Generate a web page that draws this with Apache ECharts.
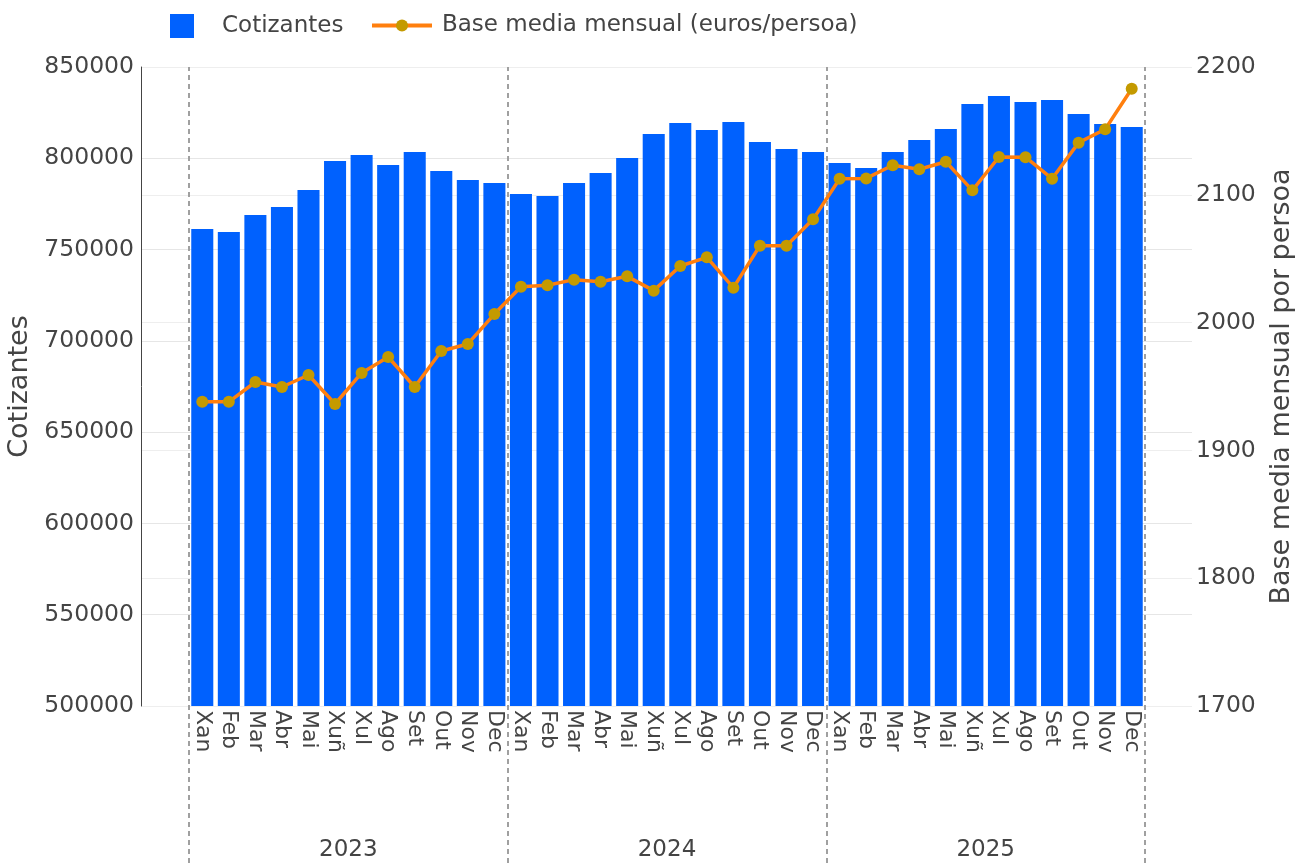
<!DOCTYPE html>
<html>
<head>
<meta charset="utf-8">
<script src="https://cdn.jsdelivr.net/npm/echarts/dist/echarts.min.js"></script>
<style>
  html, body { margin: 0; padding: 0; background: #fff; }
  #chart { width: 1295px; height: 863px; }
</style>
</head>
<body>
<div id="chart"></div>
<script>
const years = ['2023', '2024', '2025'];
const months = ['Xan', 'Feb', 'Mar', 'Abr', 'Mai', 'Xuñ', 'Xul', 'Ago', 'Set', 'Out', 'Nov', 'Dec'];
const cotizantes = [
  761250, 759600, 768900, 773300, 782600, 798500, 801800, 796300, 803400, 793000, 788100, 786400,
  780400, 779300, 786400, 791900, 800100, 813300, 819300, 815500, 819900, 808900, 805100, 803400,
  797400, 794700, 803400, 810000, 816000, 829700, 834100, 830800, 831900, 824200, 818800, 817100
];
const baseMedia = [
  1938, 1938, 1953.5, 1949.6, 1959, 1936.3, 1960.6, 1973.1, 1949.6, 1977.8, 1983.3, 2006.7,
  2028.1, 2029.2, 2033.6, 2032, 2036.2, 2025, 2044.3, 2051.1, 2027.3, 2060.2, 2060.2, 2080.8,
  2112.6, 2112.8, 2123.1, 2120, 2125.9, 2103.5, 2129.6, 2129.4, 2112.6, 2140.8, 2151.3, 2183
];

// one label per month, repeated for each year
const monthLabels = [];
years.forEach(() => months.forEach(m => monthLabels.push(m)));

const txt = '#444';
const font = 'DejaVu Sans';
const plain = v => String(v);

const chart = echarts.init(document.getElementById('chart'));

const option = {
  animation: false,
  textStyle: { fontFamily: font, color: txt },
  legend: [
    {
      data: ['Cotizantes'],
      left: 165, top: 9,
      itemWidth: 24, itemHeight: 24,
      icon: 'rect',
      textStyle: { fontSize: 23, color: txt, fontFamily: font, padding: [3, 0, 0, 23] }
    },
    {
      data: ['Base media mensual (euros/persoa)'],
      left: 365, top: 9,
      itemWidth: 60, itemHeight: 15,
      lineStyle: { width: 4 },
      textStyle: { fontSize: 23, color: txt, fontFamily: font, padding: [3, 0, 0, 5] }
    }
  ],
  grid: [
    { left: 141, right: 103, top: 67, bottom: 157, outerBoundsMode: 'none' },
    { left: 189, right: 150, top: 67, bottom: 157, outerBoundsMode: 'none' }
  ],
  xAxis: [
    { gridIndex: 0, type: 'value', min: 0, max: 1, show: false },
    {
      gridIndex: 1, type: 'category', data: monthLabels,
      axisLine: { show: false }, axisTick: { show: false },
      axisLabel: { interval: 0, rotate: -90, margin: 4, fontSize: 22, color: txt, fontFamily: font }
    },
    {
      gridIndex: 1, type: 'category', data: years, position: 'bottom', offset: 157,
      axisLine: { show: false },
      axisTick: { show: true, inside: true, length: 796, lineStyle: { color: '#a0a0a0', width: 2, type: [5, 4] } },
      axisLabel: { inside: true, margin: 1, fontSize: 23, color: txt, fontFamily: font }
    }
  ],
  yAxis: [
    {
      gridIndex: 0, type: 'value', min: 500000, max: 850000, interval: 50000, position: 'left',
      axisLine: { show: true, lineStyle: { color: txt, width: 1 } },
      axisTick: { show: false },
      axisLabel: { margin: 7, fontSize: 23.5, color: txt, fontFamily: font, formatter: plain },
      splitLine: { lineStyle: { color: '#e6e6e6', width: 1 } },
      name: 'Cotizantes', nameLocation: 'middle', nameRotate: 90, nameGap: 101,
      nameTextStyle: { fontSize: 27, color: txt, fontFamily: font }
    },
    {
      gridIndex: 0, type: 'value', min: 1700, max: 2200, interval: 100, position: 'right',
      axisLine: { show: false }, axisTick: { show: false },
      axisLabel: { margin: 4, fontSize: 23.5, color: txt, fontFamily: font, formatter: plain },
      splitLine: { lineStyle: { color: '#eeeeee', width: 1 } },
      name: 'Base media mensual por persoa', nameLocation: 'middle', nameRotate: 90, nameGap: 76,
      nameTextStyle: { fontSize: 27, color: txt, fontFamily: font }
    },
    { gridIndex: 1, type: 'value', min: 500000, max: 850000, position: 'left', show: false },
    { gridIndex: 1, type: 'value', min: 1700, max: 2200, position: 'right', show: false }
  ],
  series: [
    {
      name: 'Cotizantes', type: 'bar',
      xAxisIndex: 1, yAxisIndex: 2,
      data: cotizantes,
      barCategoryGap: '17%',
      itemStyle: { color: '#0061fe' }
    },
    {
      name: 'Base media mensual (euros/persoa)', type: 'line',
      xAxisIndex: 1, yAxisIndex: 3,
      data: baseMedia,
      symbol: 'circle', symbolSize: 12,
      lineStyle: { color: '#ff7f0e', width: 3.5 },
      itemStyle: { color: '#c49a00' },
      z: 5
    }
  ]
};

chart.setOption(option);
</script>
</body>
</html>
